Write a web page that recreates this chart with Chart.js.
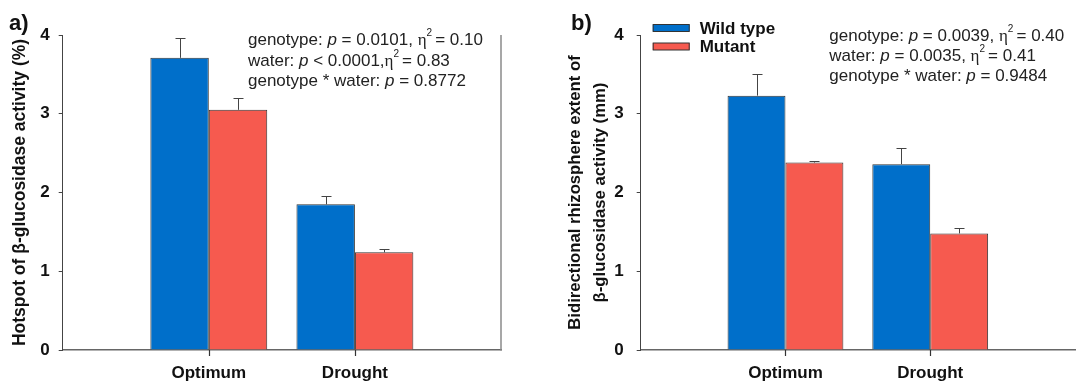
<!DOCTYPE html>
<html><head><meta charset="utf-8">
<script src="https://cdn.jsdelivr.net/npm/chart.js@4.4.1/dist/chart.umd.min.js"></script>
<style>
html,body{margin:0;padding:0;background:#fff;overflow:hidden;}
#wrap{position:relative;width:1076px;height:385px;overflow:hidden;}
canvas{position:absolute;top:0;}
</style></head><body>
<div id="wrap">
<canvas id="ca" width="538" height="385" style="left:0"></canvas>
<canvas id="cb" width="545" height="385" style="left:538px"></canvas>
</div>
<script>
// ---- data ----
const categories = ['Optimum', 'Drought'];
const seriesNames = ['Wild type', 'Mutant'];
const yTickValues = [0, 1, 2, 3, 4];
// panel a: hotspot of beta-glucosidase activity (%)
const hotspotWild = [3.71, 1.85];
const hotspotMutant = [3.05, 1.24];
const hotspotWildSE = [0.25, 0.11];
const hotspotMutantSE = [0.15, 0.04];
// panel b: bidirectional rhizosphere extent (mm)
const extentWild = [3.23, 2.36];
const extentMutant = [2.38, 1.48];
const extentWildSE = [0.27, 0.21];
const extentMutantSE = [0.02, 0.07];

const FONT = "'Liberation Sans', Arial, Helvetica, sans-serif";
const BLUE = '#006FCA';
const RED = '#F65A4F';
const pad = arr => [null, ...arr, null];
const paddedLabels = ['', ...categories, ''];

const errorBars = {
  id: 'errorBars',
  afterDatasetsDraw(chart) {
    const ctx = chart.ctx, y = chart.scales.y;
    ctx.save();
    ctx.strokeStyle = '#444';
    ctx.lineWidth = 1;
    chart.data.datasets.forEach((ds, i) => {
      const meta = chart.getDatasetMeta(i);
      meta.data.forEach((bar, j) => {
        const v = ds.data[j], e = ds.errors[j];
        if (v == null || e == null) return;
        const yt = Math.round(y.getPixelForValue(v + e)) + 0.5;
        const bx = Math.round(bar.x) + 0.5;
        ctx.beginPath();
        ctx.moveTo(bx, bar.y);
        ctx.lineTo(bx, yt);
        ctx.moveTo(bx - 5, yt);
        ctx.lineTo(bx + 5, yt);
        ctx.stroke();
      });
    });
    ctx.restore();
  }
};

function richLine(ctx, segs, x, y, size) {
  let cx = x;
  segs.forEach(([t, s]) => {
    let font = `${size}px ${FONT}`, dy = 0, adv = 1;
    if (s === 'i') font = `italic ${size}px ${FONT}`;
    if (s === 'g') font = `${size}px 'Liberation Serif', serif`;
    if (s === 's') { font = `${Math.round(size * 0.6)}px ${FONT}`; dy = -size * 0.55; adv = 0.7; }
    ctx.font = font;
    ctx.fillText(t, cx, y + dy);
    cx += ctx.measureText(t).width * adv;
  });
}

function makeDecor(opts) {
  return {
    id: 'decor',
    afterDraw(chart) {
      const ctx = chart.ctx, ca = chart.chartArea, xs = chart.scales.x;
      ctx.save();
      // category tick marks below the x axis
      ctx.strokeStyle = '#333';
      ctx.lineWidth = 1.2;
      ctx.beginPath();
      xs.ticks.forEach((t, i) => {
        if (!paddedLabels[i]) return;
        const px = Math.round(xs.getPixelForValue(t.value)) + 0.5;
        ctx.moveTo(px, ca.bottom);
        ctx.lineTo(px, ca.bottom + 6);
      });
      ctx.stroke();
      ctx.fillStyle = '#111';
      ctx.textBaseline = 'alphabetic';
      ctx.textAlign = 'left';
      ctx.font = `bold 22px ${FONT}`;
      ctx.fillText(opts.letter, opts.letterX, 30);
      ctx.fillStyle = '#222';
      opts.lines.forEach((segs, k) => richLine(ctx, segs, opts.textX, opts.baselines[k], 17));
      if (opts.rightBorder) {
        ctx.strokeStyle = '#8a8a8a';
        ctx.lineWidth = 1.5;
        ctx.beginPath();
        ctx.moveTo(ca.right, ca.top);
        ctx.lineTo(ca.right, ca.bottom + 0.5);
        ctx.stroke();
      }
      if (opts.legend) {
        const L = opts.legend;
        chart.data.datasets.forEach((ds, i) => {
          const yy = L.y + i * L.gap;
          ctx.fillStyle = ds.backgroundColor;
          ctx.fillRect(L.x, yy - 3.5, 37, 7);
          ctx.strokeStyle = '#333';
          ctx.lineWidth = 1;
          ctx.strokeRect(L.x + 0.5, yy - 3.5, 36, 7);
          ctx.fillStyle = '#111';
          ctx.font = `bold 17px ${FONT}`;
          ctx.textBaseline = 'middle';
          ctx.fillText(ds.label, L.x + 47, yy + 1);
        });
      }
      ctx.restore();
    }
  };
}

function build(canvasId, wild, mutant, wildSE, mutantSE, cfg) {
  return new Chart(document.getElementById(canvasId), {
    type: 'bar',
    data: {
      labels: paddedLabels,
      datasets: [
        { label: seriesNames[0], data: pad(wild), errors: pad(wildSE), backgroundColor: BLUE, borderColor: '#333', borderWidth: 1 },
        { label: seriesNames[1], data: pad(mutant), errors: pad(mutantSE), backgroundColor: RED, borderColor: '#333', borderWidth: 1 }
      ]
    },
    options: {
      responsive: false,
      animation: false,
      layout: { padding: { top: 35, right: cfg.padRight, left: 0, bottom: 0 } },
      datasets: { bar: { categoryPercentage: 0.8, barPercentage: 1.0 } },
      plugins: { legend: { display: false }, tooltip: { enabled: false } },
      scales: {
        x: {
          offset: false,
          afterFit: s => { s.height = 35; },
          grid: { offset: false, drawOnChartArea: false, tickLength: 5, color: 'rgba(0,0,0,0)' },
          border: { display: true, color: '#666', width: 1.5 },
          ticks: { autoSkip: false, maxRotation: 0, padding: 8, color: '#111', font: { family: FONT, size: 17, weight: 'bold' } }
        },
        y: {
          min: yTickValues[0], max: yTickValues[yTickValues.length - 1],
          afterFit: s => { s.width = cfg.yWidth; },
          afterBuildTicks: s => { s.ticks = yTickValues.map(v => ({ value: v })); },
          grid: { drawOnChartArea: false, tickLength: 4, color: '#444' },
          border: { display: true, color: '#444', width: 1 },
          ticks: { padding: cfg.tickPad, color: '#111', font: { family: FONT, size: 17, weight: 'bold' } },
          title: {
            display: true, text: cfg.title, color: '#111',
            font: { family: FONT, size: cfg.titleSize, weight: 'bold', lineHeight: cfg.titleLH },
            padding: { top: cfg.titlePad, bottom: 0 }
          }
        }
      }
    },
    plugins: [errorBars, makeDecor(cfg.decor)]
  });
}

build('ca', hotspotWild, hotspotMutant, hotspotWildSE, hotspotMutantSE, {
  padRight: 37, yWidth: 62.7, tickPad: 9,
  title: 'Hotspot of β-glucosidase activity (%)', titleSize: 17.5, titleLH: 1.2, titlePad: 9.5,
  decor: {
    letter: 'a)', letterX: 9, textX: 248, baselines: [45, 66, 86],
    rightBorder: true,
    lines: [
      [['genotype: ', 'n'], ['p', 'i'], [' = 0.0101, ', 'n'], ['η', 'g'], ['2', 's'], [' = 0.10', 'n']],
      [['water: ', 'n'], ['p', 'i'], [' < 0.0001,', 'n'], ['η', 'g'], ['2', 's'], [' = 0.83', 'n']],
      [['genotype * water: ', 'n'], ['p', 'i'], [' = 0.8772', 'n']]
    ]
  }
});

build('cb', extentWild, extentMutant, extentWildSE, extentMutantSE, {
  padRight: 4.3, yWidth: 102.7, tickPad: 13,
  title: ['Bidirectional rhizosphere extent of', 'β-glucosidase activity (mm)'], titleSize: 16.7, titleLH: 1.5, titlePad: 24.5,
  decor: {
    letter: 'b)', letterX: 33, textX: 291.3, baselines: [41, 61, 81],
    rightBorder: false,
    legend: { x: 114.7, y: 28, gap: 18.5 },
    lines: [
      [['genotype: ', 'n'], ['p', 'i'], [' = 0.0039, ', 'n'], ['η', 'g'], ['2', 's'], [' = 0.40', 'n']],
      [['water: ', 'n'], ['p', 'i'], [' = 0.0035, ', 'n'], ['η', 'g'], ['2', 's'], [' = 0.41', 'n']],
      [['genotype * water: ', 'n'], ['p', 'i'], [' = 0.9484', 'n']]
    ]
  }
});
</script>
</body></html>
